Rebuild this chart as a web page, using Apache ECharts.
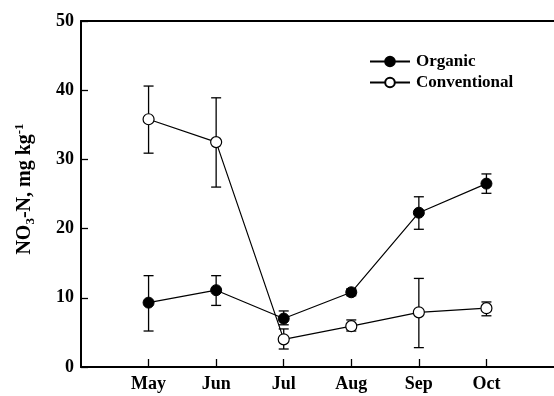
<!DOCTYPE html>
<html><head><meta charset="utf-8">
<script src="https://cdn.jsdelivr.net/npm/echarts@6/dist/echarts.min.js"></script>
<style>html,body{margin:0;padding:0;background:#fff}#c{width:554px;height:396px}</style>
</head><body><div id="c"></div>
<script>
var months = ['May','Jun','Jul','Aug','Sep','Oct'];
var organic = [9.3, 11.1, 7.0, 10.8, 22.3, 26.5];
var organicLow = [5.2, 8.9, 6.1, 10.3, 19.9, 25.1];
var organicHigh = [13.2, 13.2, 8.1, 11.3, 24.6, 27.9];
var conventional = [35.8, 32.5, 4.0, 5.9, 7.9, 8.5];
var conventionalLow = [30.9, 26.0, 2.6, 5.2, 2.8, 7.4];
var conventionalHigh = [40.6, 38.9, 5.5, 6.8, 12.8, 9.4];
var yTicks = [0, 10, 20, 30, 40, 50];

var font = 'Liberation Serif';
function pts(vals){ return vals.map(function(v,i){ return [i+1, v]; }); }
function errData(lo, hi){ return lo.map(function(l,i){ return [i+1, l, hi[i]]; }); }
function errBar(params, api){
  var x = api.value(0);
  var lo = api.coord([x, api.value(1)]);
  var hi = api.coord([x, api.value(2)]);
  var w = 5;
  var st = {stroke:'#000', lineWidth:1.3};
  return {type:'group', children:[
    {type:'line', shape:{x1:lo[0],y1:lo[1],x2:hi[0],y2:hi[1]}, style:st},
    {type:'line', shape:{x1:lo[0]-w,y1:lo[1],x2:lo[0]+w,y2:lo[1]}, style:st},
    {type:'line', shape:{x1:hi[0]-w,y1:hi[1],x2:hi[0]+w,y2:hi[1]}, style:st}
  ]};
}
var chart = echarts.init(document.getElementById('c'), null, {renderer:'canvas'});
chart.setOption({
  animation:false,
  backgroundColor:'#fff',
  grid:{left:81, top:21, width:475, height:346, containLabel:false, show:false},
  legend:{
    orient:'vertical', left:364, top:48, itemWidth:40, itemHeight:12, itemGap:4,
    textStyle:{fontFamily:font, fontWeight:'bold', fontSize:17, color:'#000', padding:[0,0,0,1]},
    data:[{name:'Organic'},{name:'Conventional'}]
  },
  xAxis:[{
    type:'value', min:0, max:7, interval:1,
    axisLine:{show:true, lineStyle:{color:'#000', width:2}},
    splitLine:{show:false},
    axisTick:{show:true, inside:true, length:8, lineStyle:{color:'#000', width:1.3}, customValues:[1,2,3,4,5,6]},
    axisLabel:{customValues:[1,2,3,4,5,6], formatter:function(v){ return months[v-1] || ''; },
      fontFamily:font, fontWeight:'bold', fontSize:18, color:'#000', margin:8}
  },{
    type:'value', position:'top', min:0, max:7, interval:1,
    axisLine:{show:true, lineStyle:{color:'#000', width:2}},
    splitLine:{show:false}, axisTick:{show:false}, axisLabel:{show:false}
  }],
  yAxis:{
    type:'value', min:0, max:50, interval:10,
    axisLine:{show:true, lineStyle:{color:'#000', width:2}},
    splitLine:{show:false},
    axisTick:{show:true, inside:true, length:7, lineStyle:{color:'#000', width:1.3}, customValues:yTicks},
    axisLabel:{customValues:yTicks, fontFamily:font, fontWeight:'bold', fontSize:18, color:'#000', margin:7},
    name:'{a|NO}{s|3}{a|-N, mg kg}{p|-1}', nameLocation:'middle', nameRotate:90, nameGap:44,
    nameTextStyle:{fontFamily:font, fontWeight:'bold', fontSize:20, color:'#000', padding:[0,0,0,10],
      rich:{
        a:{fontFamily:font, fontWeight:'bold', fontSize:20, color:'#000', lineHeight:24},
        s:{fontFamily:font, fontWeight:'bold', fontSize:13, color:'#000', lineHeight:24, verticalAlign:'bottom', padding:[9,0,0,0]},
        p:{fontFamily:font, fontWeight:'bold', fontSize:13, color:'#000', lineHeight:24, verticalAlign:'top', padding:[0,0,9,0]}
      }}
  },
  series:[
    {type:'custom', name:'orgErr', renderItem:errBar, data:errData(organicLow, organicHigh), z:1, silent:true},
    {type:'custom', name:'conErr', renderItem:errBar, data:errData(conventionalLow, conventionalHigh), z:1, silent:true},
    {type:'line', name:'Organic', data:pts(organic), symbol:'circle', symbolSize:11,
      lineStyle:{color:'#000', width:1.2}, itemStyle:{color:'#000', borderColor:'#000', borderWidth:1}, z:3},
    {type:'line', name:'Conventional', data:pts(conventional), symbol:'circle', symbolSize:11,
      lineStyle:{color:'#000', width:1.2}, itemStyle:{color:'#fff', borderColor:'#000', borderWidth:1.2}, z:3}
  ]
});
</script>
</body></html>
